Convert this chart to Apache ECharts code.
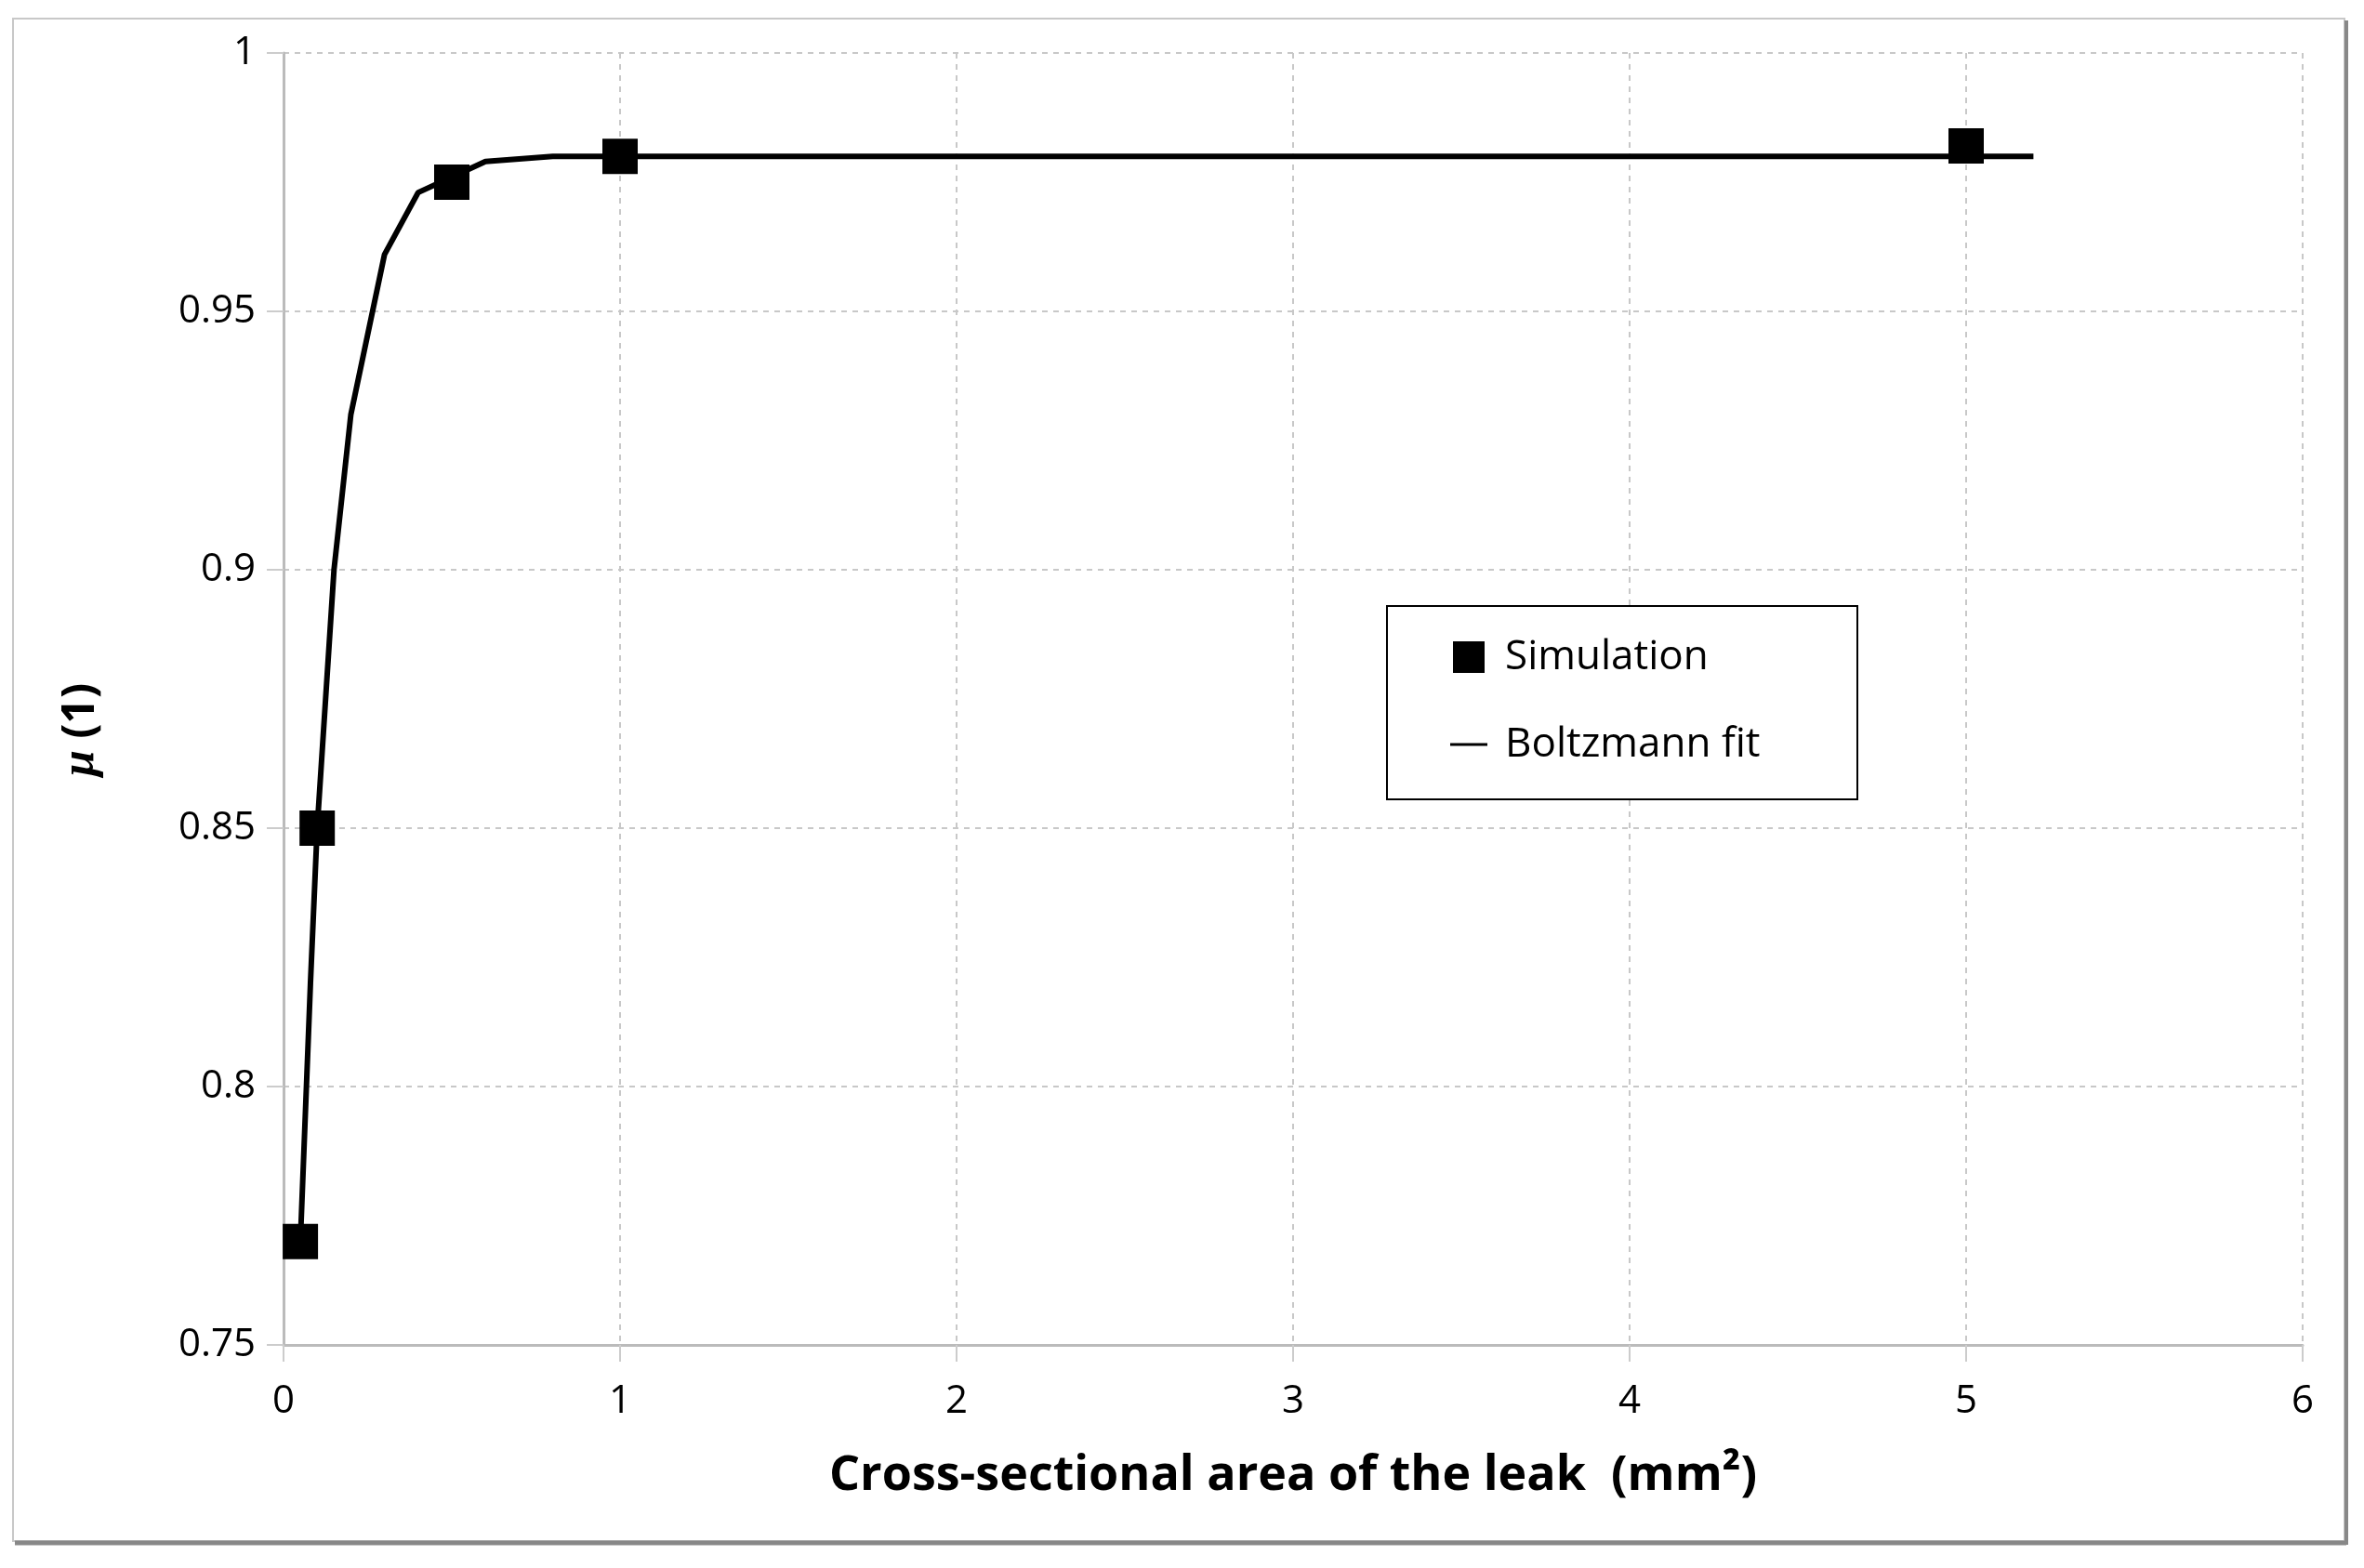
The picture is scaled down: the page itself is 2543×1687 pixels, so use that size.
<!DOCTYPE html>
<html><head><meta charset="utf-8">
<script src="https://cdn.jsdelivr.net/npm/echarts@6/dist/echarts.min.js"></script>
<style>html,body{margin:0;padding:0;background:#fff}#c{width:2543px;height:1687px}</style>
</head><body><div id="c"></div>
<script>
const simX = [0.05, 0.1, 0.5, 1, 5];
const simY = [0.77, 0.85, 0.975, 0.98, 0.982];
const fitX = [0.05, 0.08, 0.1, 0.15, 0.2, 0.3, 0.4, 0.5, 0.6, 0.7, 0.8, 1, 2, 3, 4, 5, 5.2];
const fitY = [0.77, 0.82, 0.85, 0.90, 0.93, 0.961, 0.973, 0.976, 0.979, 0.9795, 0.98, 0.98, 0.98, 0.98, 0.98, 0.98, 0.98];
const xTicks = [0, 1, 2, 3, 4, 5, 6];
const yTicks = [0.75, 0.8, 0.85, 0.9, 0.95, 1];
const font = "'Liberation Sans Narrow', 'Open Sans', sans-serif";
const chart = echarts.init(document.getElementById('c'));
const grid = {color:'#c8c8c8', type:[6,6], width:2};
chart.setOption({
  animation:false,
  graphic:[
    {type:'rect', shape:{x:14,y:20,width:2508,height:1638}, style:{fill:'none', stroke:'#c8c8c8', lineWidth:2}},
    {type:'line', shape:{x1:16,y1:1660,x2:2524,y2:1660}, style:{stroke:'#888', lineWidth:5}},
    {type:'line', shape:{x1:2524,y1:22,x2:2524,y2:1662}, style:{stroke:'#888', lineWidth:4}},
    {type:'rect', shape:{x:1492,y:652,width:506,height:208}, style:{fill:'#fff', stroke:'#000', lineWidth:2}, z:50},
    {type:'text', x:62, y:835, rotation:Math.PI/2, style:{text:'{m|μ} (1)', font:"bold 48px "+font, fill:'#000', rich:{m:{fontStyle:'italic', fontWeight:'bold', fontSize:50, fontFamily:'serif'}}}, z:60}
  ],
  legend:{
    orient:'vertical', left:1555, top:680, itemGap:50, itemWidth:40, itemHeight:34,
    textStyle:{fontFamily:font, fontSize:44, color:'#000', padding:[0,0,0,14]}, z:60,
    data:[
      {name:'Simulation', icon:'path://M10,0H30V20H10Z', itemStyle:{color:'#000'}},
      {name:'Boltzmann fit', icon:'path://M0,0H40V3H0Z', itemStyle:{color:'#000'}}
    ]
  },
  grid:{left:305, right:66, top:57, bottom:240},
  xAxis:{
    type:'value', min:0, max:6, interval:1,
    name:'Cross-sectional area of the leak  (mm²)', nameLocation:'middle', nameGap:115,
    nameTextStyle:{fontFamily:font, fontSize:52, fontWeight:'bold', color:'#000'},
    axisLine:{show:true, lineStyle:{color:'#bbb', width:3}},
    axisTick:{show:true, length:18, lineStyle:{color:'#ccc', width:2}},
    axisLabel:{fontFamily:font, fontSize:42, color:'#000', margin:40, formatter:v=>xTicks.includes(v)?String(v):''},
    splitLine:{show:true, lineStyle:grid}
  },
  yAxis:{
    type:'value', min:0.75, max:1, interval:0.05,
    axisLine:{show:true, lineStyle:{color:'#bbb', width:3}},
    axisTick:{show:true, length:18, lineStyle:{color:'#ccc', width:2}},
    axisLabel:{fontFamily:font, fontSize:42, color:'#000', margin:30, formatter:v=>{const t=yTicks.find(a=>Math.abs(a-v)<1e-9);return t===undefined?'':String(t);}},
    splitLine:{show:true, lineStyle:grid}
  },
  series:[
    {name:'Boltzmann fit', type:'line', data:fitX.map((x,i)=>[x,fitY[i]]), showSymbol:false, symbol:'none', lineStyle:{color:'#000', width:6}, itemStyle:{color:'#000'}, z:3},
    {name:'Simulation', type:'scatter', data:simX.map((x,i)=>[x,simY[i]]), symbol:'rect', symbolSize:38, itemStyle:{color:'#000', opacity:1}, z:4}
  ]
});
</script></body></html>
